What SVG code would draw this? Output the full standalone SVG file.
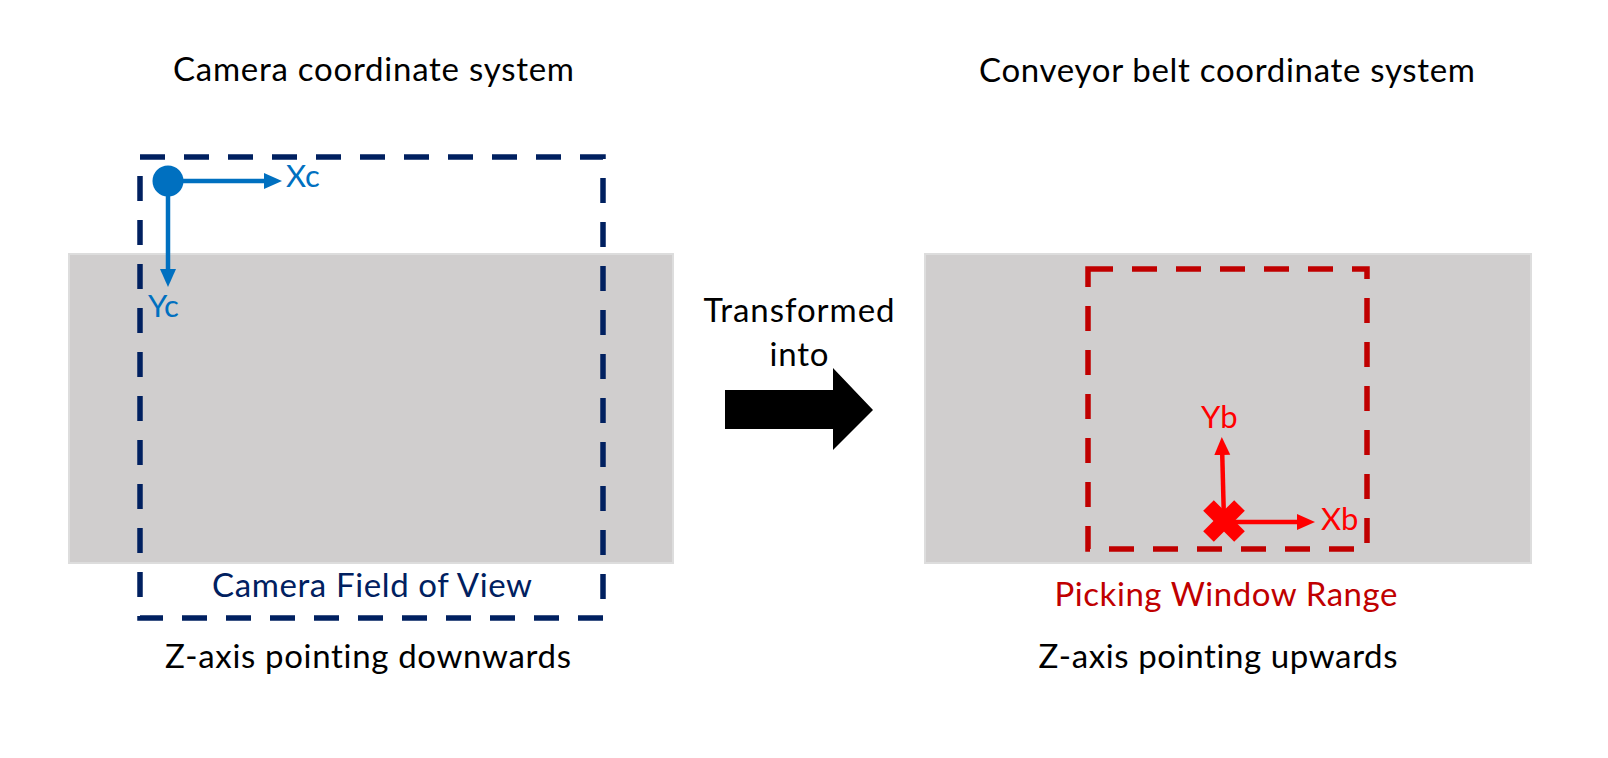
<svg xmlns="http://www.w3.org/2000/svg" width="1608" height="758" viewBox="0 0 1608 758">
<defs>
<style>
.t{font-family:Lato,"Open Sans","Liberation Sans",sans-serif;font-size:33px;fill:#000;text-anchor:middle;font-variant-ligatures:none}
.s{text-anchor:start;font-size:31px}
.belt{fill:#d0cece;stroke:#dddddd;stroke-width:2}
.dash{fill:none;stroke-width:5.5;stroke-dasharray:25,19}
.bl{stroke:#0070c0;stroke-width:4.5;fill:none}
.rd{stroke:#ff0000;stroke-width:4.5;fill:none}
</style>
<marker id="ab" markerWidth="18" markerHeight="18" refX="10" refY="9" orient="auto" markerUnits="userSpaceOnUse"><path d="M0,1 L18,9 L0,17 z" fill="#0070c0"/></marker>
<marker id="ar" markerWidth="18" markerHeight="18" refX="10" refY="9" orient="auto" markerUnits="userSpaceOnUse"><path d="M0,1 L18,9 L0,17 z" fill="#ff0000"/></marker>
</defs>
<rect width="1608" height="758" fill="#fff"/>
<g id="camera-title"><text class="t" x="373.5" y="81" textLength="401">Camera coordinate system</text></g>
<g id="belt-title"><text class="t" x="1227" y="81.5" textLength="496">Conveyor belt coordinate system</text></g>
<g id="left-belt"><rect class="belt" x="69" y="254" width="604" height="309"/></g>
<g id="right-belt"><rect class="belt" x="925" y="254" width="606" height="309"/></g>
<g id="camera-fov">
<rect class="dash" x="140" y="157" width="463" height="461" stroke="#002060"/>
<text class="t" x="372" y="597" textLength="320" style="fill:#002060">Camera Field of View</text>
</g>
<g id="picking-window">
<rect class="dash" x="1088" y="269" width="279" height="280" stroke="#c00000"/>
<text class="t" x="1226" y="606" textLength="343" style="fill:#c00000">Picking Window Range</text>
</g>
<g id="camera-origin"><circle cx="168" cy="181" r="15.5" fill="#0070c0"/></g>
<g id="belt-origin">
<line x1="1208.5" y1="505.5" x2="1239.5" y2="536.5" stroke="#ff0000" stroke-width="15"/>
<line x1="1239.5" y1="505.5" x2="1208.5" y2="536.5" stroke="#ff0000" stroke-width="15"/>
</g>
<g id="connectors">
<line class="bl" x1="168" y1="181" x2="274" y2="181" marker-end="url(#ab)"/>
<line class="bl" x1="168" y1="181" x2="168" y2="279" marker-end="url(#ab)"/>
<line class="rd" x1="1224" y1="521" x2="1222" y2="445" marker-end="url(#ar)"/>
<line class="rd" x1="1224" y1="522" x2="1307" y2="522" marker-end="url(#ar)"/>
<path id="transform-arrow" d="M725,390 L833,390 L833,368 L873,410 L833,450 L833,429 L725,429 Z" fill="#000"/>
</g>
<g id="labels">
<text class="t s" x="286" y="187" style="fill:#0070c0">Xc</text>
<text class="t s" x="148" y="317" style="fill:#0070c0">Yc</text>
<text class="t s" x="1201" y="428" style="fill:#ff0000">Yb</text>
<text class="t s" x="1321" y="530" style="fill:#ff0000">Xb</text>
<text class="t" x="799" y="321.5" textLength="191">Transformed</text>
<text class="t" x="799" y="366" textLength="59">into</text>
</g>
<g id="z-labels">
<text class="t" x="368" y="668" textLength="406">Z-axis pointing downwards</text>
<text class="t" x="1218" y="668" textLength="359">Z-axis pointing upwards</text>
</g>
</svg>
